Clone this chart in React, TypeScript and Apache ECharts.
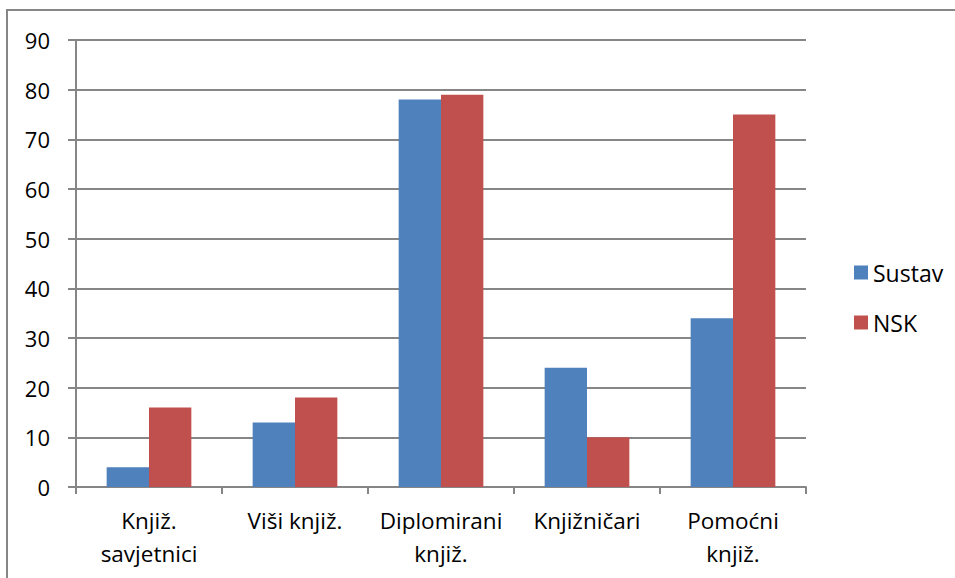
import React, { useEffect, useRef } from "react";
import * as echarts from "echarts";

const categories = ["Knjiž.\nsavjetnici", "Viši knjiž.", "Diplomirani\nknjiž.", "Knjižničari", "Pomoćni\nknjiž."];
const sustav = [4, 13, 78, 24, 34];
const nsk = [16, 18, 79, 10, 75];
const seriesNames = ["Sustav", "NSK"];

export default function App() {
  const ref = useRef<HTMLDivElement>(null);
  useEffect(() => {
    const chart = echarts.init(ref.current!, undefined, { renderer: "svg" });
    const font = "Open Sans";
    const gray = "#868686";
    chart.setOption({
      animation: false,
      textStyle: { fontFamily: font },
      legend: {
        orient: "vertical",
        left: 849,
        top: 256,
        itemWidth: 14,
        itemHeight: 14,
        itemGap: 27,
        icon: "rect",
        textStyle: { fontSize: 23, color: "#000", fontFamily: font },
        data: seriesNames,
      },
      grid: { left: 76, top: 40, width: 730, height: 447, containLabel: false },
      xAxis: {
        type: "category",
        data: categories,
        axisLine: { lineStyle: { color: gray, width: 2 } },
        axisTick: { show: true, length: 7, lineStyle: { color: gray, width: 2 } },
        axisLabel: { fontSize: 22.5, color: "#000", lineHeight: 33, margin: 17, interval: 0, fontFamily: font },
      },
      yAxis: {
        type: "value",
        min: 0,
        max: 90,
        interval: 10,
        axisLine: { show: true, lineStyle: { color: gray, width: 2 } },
        axisTick: { show: true, length: 8, lineStyle: { color: gray, width: 2 } },
        splitLine: { lineStyle: { color: gray, width: 2 } },
        axisLabel: { fontSize: 22, color: "#000", margin: 26, fontFamily: font },
      },
      series: [
        {
          name: seriesNames[0],
          type: "bar",
          data: sustav,
          itemStyle: { color: "#4F81BD" },
          barGap: "0%",
          barCategoryGap: "42%",
        },
        {
          name: seriesNames[1],
          type: "bar",
          data: nsk,
          itemStyle: { color: "#C0504D" },
          barGap: "0%",
          barCategoryGap: "42%",
        },
      ],
    });
    return () => chart.dispose();
  }, []);
  return (
    <div style={{ position: "fixed", left: 0, top: 0, width: 955, height: 578, background: "#fff", overflow: "hidden" }}>
      <div ref={ref} style={{ position: "absolute", left: 0, top: 0, width: 955, height: 578 }} />
      <div
        style={{
          position: "absolute",
          left: 6,
          top: 9,
          width: 1000,
          height: 1000,
          borderTop: "2px solid #868686",
          borderLeft: "2px solid #868686",
          boxSizing: "border-box",
          pointerEvents: "none",
        }}
      />
    </div>
  );
}
